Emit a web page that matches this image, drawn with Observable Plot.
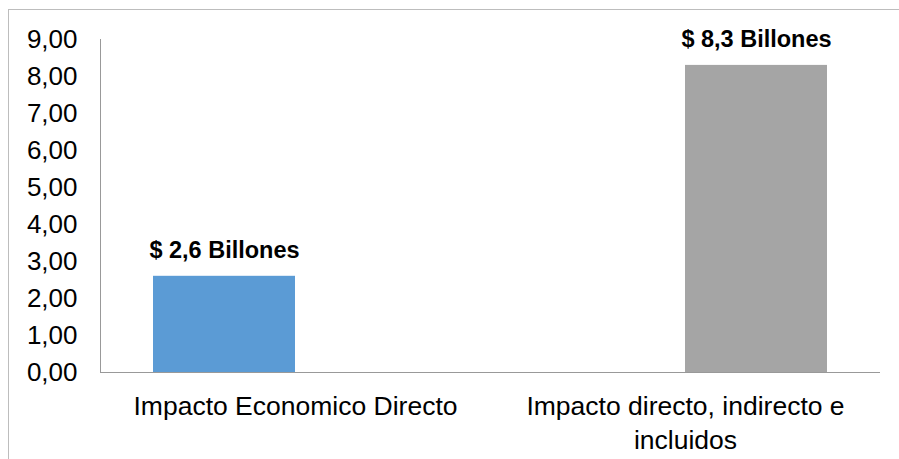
<!DOCTYPE html>
<html><head><meta charset="utf-8">
<script src="https://cdn.jsdelivr.net/npm/d3@7"></script>
<script src="https://cdn.jsdelivr.net/npm/@observablehq/plot@0.6"></script>
<style>
html,body{margin:0;padding:0;background:#fff;overflow:hidden}
#wrap{position:relative;width:899px;height:459px;overflow:hidden}
#border{position:absolute;left:8px;top:9px;width:1000px;height:1000px;border:1px solid #bdbdbd;box-sizing:border-box}
#chart{position:absolute;left:0;top:0}
</style></head><body>
<div id="wrap"><div id="border"></div><div id="chart"></div></div>
<script>
const categories = ["Impacto Economico Directo", "Impacto directo, indirecto e incluidos"];
const categoryTickLabels = ["Impacto Economico Directo", "Impacto directo, indirecto e\nincluidos"];
const series = ["Directo", "Total"];
const values = [2.6, 8.3];
const barLabels = ["$ 2,6 Billones", "$ 8,3 Billones"];
const colors = ["#5B9BD5", "#A5A5A5"];
const yTicks = [0, 1, 2, 3, 4, 5, 6, 7, 8, 9];

const data = categories.map((c, i) => ({category: c, series: series[i], value: values[i], label: barLabels[i]}));

const chart = Plot.plot({
  width: 899, height: 459,
  marginLeft: 100, marginRight: 19, marginTop: 39, marginBottom: 87,
  style: {fontFamily: "'Liberation Sans', Arial, sans-serif", fontSize: "26px", color: "#000", background: "transparent", overflow: "visible"},
  fx: {domain: categories, padding: 0, label: null, axis: null},
  x: {domain: series, paddingInner: 0, paddingOuter: 0.373, axis: null},
  y: {domain: [0, 9], label: null},
  color: {domain: series, range: colors},
  marks: [
    Plot.frame({anchor: "left", facet: "super", stroke: "#999"}),
    Plot.barY(data, {fx: "category", x: "series", y: "value", fill: "series"}),
    Plot.ruleY([0], {stroke: "#999"}),
    Plot.text(data, {fx: "category", x: "series", y: "value", text: "label", lineAnchor: "bottom", dy: -18, fontWeight: "bold", fontSize: 23.5, fill: "#000"}),
    Plot.axisY({ticks: yTicks, tickSize: 0, tickPadding: 23, tickFormat: d => d.toFixed(2).replace(".", ","), fontSize: 26, label: null}),
    Plot.axisFx({anchor: "bottom", tickSize: 0, tickPadding: 19, tickFormat: d => categoryTickLabels[categories.indexOf(d)], lineHeight: 1.27, fontSize: 26.5, label: null})
  ]
});
document.getElementById("chart").appendChild(chart);
</script>
</body></html>
